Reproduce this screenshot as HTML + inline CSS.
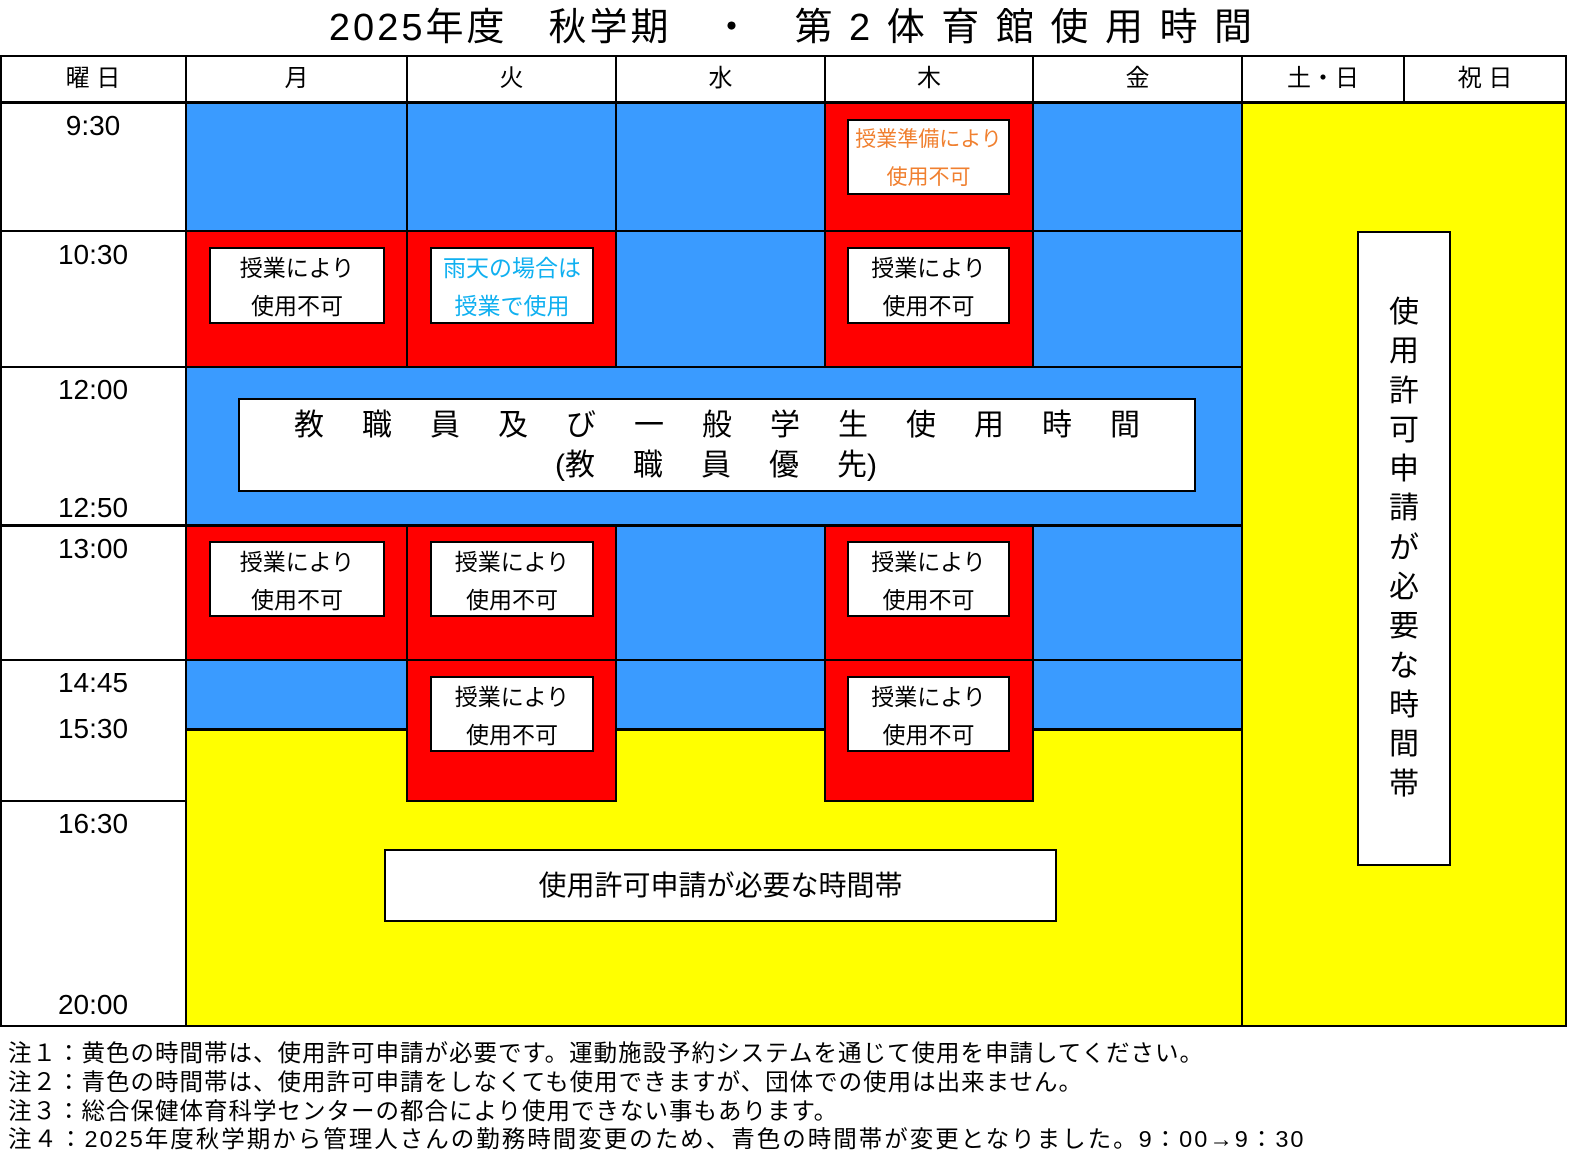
<!DOCTYPE html>
<html><head><meta charset="utf-8"><style>
body{margin:0;width:1584px;height:1166px;background:#fff;position:relative;overflow:hidden;font-family:"Liberation Sans","Noto Sans CJK JP",sans-serif;color:#000}
.a{position:absolute;box-sizing:border-box}
.bl{background:#3a9bff}.rd{background:#ff0000}.yl{background:#ffff00}
.vl{position:absolute;width:2px;background:#000}
.hl{position:absolute;height:2px;background:#000}
.bx{position:absolute;box-sizing:border-box;background:#fff;border:2px solid #000;text-align:center;font-size:23px;line-height:38px;padding-top:0}
.t{position:absolute;font-size:28px;width:186px;left:0;text-align:center}
.h{position:absolute;top:56px;height:46px;line-height:46px;text-align:center;font-size:24px}
.n{position:absolute;left:8px;font-size:23.5px;white-space:nowrap;letter-spacing:1px}
.sp{letter-spacing:0}
</style></head><body>
<div class="a" style="left:0;top:0;width:1584px;text-align:center;font-size:38px;line-height:56px;letter-spacing:3px">2025年度　秋学期　・　第 2 体 育 館 使 用 時 間</div>

<div class="a bl" style="left:186px;top:102px;width:1056px;height:627px"></div>
<div class="a yl" style="left:186px;top:729px;width:1056px;height:297px"></div>
<div class="a yl" style="left:1242px;top:102px;width:324px;height:924px"></div>
<div class="a rd" style="left:825px;top:102px;width:208px;height:265px"></div>
<div class="a rd" style="left:186px;top:231px;width:430px;height:136px"></div>
<div class="a rd" style="left:186px;top:525px;width:430px;height:135px"></div>
<div class="a rd" style="left:825px;top:525px;width:208px;height:135px"></div>
<div class="a rd" style="left:407px;top:660px;width:209px;height:141px"></div>
<div class="a rd" style="left:825px;top:660px;width:208px;height:141px"></div>

<div class="a" style="left:0;top:55px;width:1567px;height:972px;border:2px solid #000"></div>
<div class="hl" style="left:0;top:101px;width:1567px;height:3px"></div>
<div class="hl" style="left:0;top:230px;width:1242px"></div>
<div class="hl" style="left:0;top:366px;width:1242px"></div>
<div class="hl" style="left:0;top:524px;width:1242px;height:3px"></div>
<div class="hl" style="left:0;top:659px;width:1242px"></div>
<div class="hl" style="left:186px;top:728px;width:221px;height:3px"></div>
<div class="hl" style="left:616px;top:728px;width:209px;height:3px"></div>
<div class="hl" style="left:1033px;top:728px;width:209px;height:3px"></div>
<div class="hl" style="left:407px;top:800px;width:209px"></div>
<div class="hl" style="left:825px;top:800px;width:208px"></div>
<div class="hl" style="left:0;top:800px;width:186px"></div>
<div class="vl" style="left:185px;top:56px;height:970px"></div>
<div class="vl" style="left:406px;top:56px;height:312px"></div>
<div class="vl" style="left:615px;top:56px;height:312px"></div>
<div class="vl" style="left:824px;top:56px;height:312px"></div>
<div class="vl" style="left:1032px;top:56px;height:312px"></div>
<div class="vl" style="left:1241px;top:56px;height:970px"></div>
<div class="vl" style="left:1403px;top:56px;height:46px"></div>
<div class="vl" style="left:406px;top:525px;height:277px"></div>
<div class="vl" style="left:615px;top:525px;height:277px"></div>
<div class="vl" style="left:824px;top:525px;height:277px"></div>
<div class="vl" style="left:1032px;top:525px;height:277px"></div>

<div class="h" style="left:0;width:186px">曜 日</div>
<div class="h" style="left:186px;width:221px">月</div>
<div class="h" style="left:407px;width:209px">火</div>
<div class="h" style="left:616px;width:209px">水</div>
<div class="h" style="left:825px;width:208px">木</div>
<div class="h" style="left:1033px;width:209px">金</div>
<div class="h" style="left:1242px;width:162px">土・日</div>
<div class="h" style="left:1404px;width:162px">祝 日</div>

<div class="t" style="top:110px">9:30</div>
<div class="t" style="top:239px">10:30</div>
<div class="t" style="top:374px">12:00</div>
<div class="t" style="top:492px">12:50</div>
<div class="t" style="top:533px">13:00</div>
<div class="t" style="top:667px">14:45</div>
<div class="t" style="top:713px">15:30</div>
<div class="t" style="top:808px">16:30</div>
<div class="t" style="top:989px">20:00</div>

<div class="bx" style="left:847px;top:119px;width:163px;height:76px;color:#f08030;font-size:21px">授業準備により<br>使用不可</div>
<div class="bx" style="left:209px;top:247px;width:176px;height:77px">授業により<br>使用不可</div>
<div class="bx" style="left:430px;top:247px;width:164px;height:77px;color:#10b0f0">雨天の場合は<br>授業で使用</div>
<div class="bx" style="left:847px;top:247px;width:163px;height:77px">授業により<br>使用不可</div>
<div class="bx" style="left:209px;top:541px;width:176px;height:76px">授業により<br>使用不可</div>
<div class="bx" style="left:430px;top:541px;width:164px;height:76px">授業により<br>使用不可</div>
<div class="bx" style="left:847px;top:541px;width:163px;height:76px">授業により<br>使用不可</div>
<div class="bx" style="left:430px;top:676px;width:164px;height:76px">授業により<br>使用不可</div>
<div class="bx" style="left:847px;top:676px;width:163px;height:76px">授業により<br>使用不可</div>
<div class="bx" style="left:238px;top:398px;width:958px;height:94px;font-size:30px;line-height:40px;padding-top:6px">
<div style="letter-spacing:38px;margin-right:-38px">教職員及び一般学生使用時間</div>
<div style="position:absolute;left:315px;top:46px;white-space:nowrap;letter-spacing:38px"><span class="sp">(</span>教職員優<span class="sp">先)</span></div></div>
<div class="bx" style="left:1357px;top:231px;width:94px;height:635px;font-size:30px;line-height:39.3px;padding-top:60px">使<br>用<br>許<br>可<br>申<br>請<br>が<br>必<br>要<br>な<br>時<br>間<br>帯</div>
<div class="bx" style="left:384px;top:849px;width:673px;height:73px;font-size:28px;line-height:70px">使用許可申請が必要な時間帯</div>

<div class="n" style="top:1034px">注１：黄色の時間帯は、使用許可申請が必要です。運動施設予約システムを通じて使用を申請してください。</div>
<div class="n" style="top:1063px">注２：青色の時間帯は、使用許可申請をしなくても使用できますが、団体での使用は出来ません。</div>
<div class="n" style="top:1092px">注３：総合保健体育科学センターの都合により使用できない事もあります。</div>
<div class="n" style="top:1120px;letter-spacing:2px">注４：2025年度秋学期から管理人さんの勤務時間変更のため、青色の時間帯が変更となりました。9：00→9：30</div>
</body></html>
